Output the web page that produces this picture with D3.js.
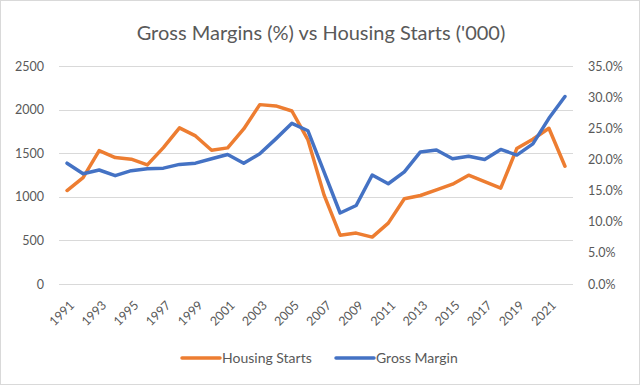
<!DOCTYPE html>
<html>
<head>
<meta charset="utf-8">
<script src="https://cdn.jsdelivr.net/npm/d3@7"></script>
<style>
  body { margin: 0; background: #fff; }
  svg { display: block; font-family: Lato, "Open Sans", sans-serif; }
</style>
</head>
<body>
<svg id="chart" width="640" height="385"></svg>
<script>
const years = d3.range(1991, 2023);

// housing starts, thousands
const housingStarts = [1072, 1221, 1530, 1450, 1431, 1366, 1564, 1790, 1698, 1534,
  1561, 1778, 2057, 2042, 1984, 1652, 1022, 560, 584, 538,
  698, 977, 1015, 1080, 1145, 1248, 1175, 1099, 1553, 1660,
  1786, 1351];

// gross margin, %
const grossMargin = [19.4, 17.7, 18.3, 17.4, 18.2, 18.5, 18.6, 19.2, 19.4, 20.1,
  20.8, 19.4, 20.9, 23.3, 25.8, 24.6, 18.0, 11.4, 12.6, 17.5,
  16.1, 18.0, 21.2, 21.5, 20.1, 20.5, 20.0, 21.6, 20.7, 22.5,
  26.6, 30.1];

const leftTicks = [0, 500, 1000, 1500, 2000, 2500];
const rightTicks = [0, 5, 10, 15, 20, 25, 30, 35];
const labelYears = years.filter(y => (y - 1991) % 2 === 0);

const WIDTH = 640, HEIGHT = 385;
const plot = { left: 59, right: 573, top: 66, bottom: 284 };
const textColor = "#595959";
const gridColor = "#d9d9d9";
const orange = "#ED7D31", blue = "#4472C4";

const svg = d3.select("#chart");

svg.append("rect")
  .attr("x", 0.5).attr("y", 0.5)
  .attr("width", WIDTH - 1).attr("height", HEIGHT - 1)
  .attr("fill", "#fff")
  .attr("stroke", gridColor);

const x = d3.scaleBand()
  .domain(years)
  .range([plot.left, plot.right]);

const yLeft = d3.scaleLinear().domain([0, 2500]).range([plot.bottom, plot.top]);
const yRight = d3.scaleLinear().domain([0, 35]).range([plot.bottom, plot.top]);

const cx = d => x(d) + x.bandwidth() / 2;

// grid
svg.append("g")
  .selectAll("line")
  .data(leftTicks)
  .join("line")
  .attr("x1", plot.left).attr("x2", plot.right)
  .attr("y1", d => Math.round(yLeft(d)) + 0.5)
  .attr("y2", d => Math.round(yLeft(d)) + 0.5)
  .attr("stroke", gridColor)
  .attr("stroke-width", 1);

// left axis
const leftAxis = svg.append("g")
  .attr("transform", `translate(${plot.left - 15},0)`)
  .call(d3.axisLeft(yLeft).tickValues(leftTicks).tickSize(0).tickPadding(0)
    .tickFormat(d3.format("d")));
leftAxis.select(".domain").remove();
leftAxis.selectAll("text")
  .attr("fill", textColor)
  .attr("font-size", "12.5px")
  .attr("font-family", "Lato");

// right axis
const rightAxis = svg.append("g")
  .attr("transform", `translate(${plot.right + 15},0)`)
  .call(d3.axisRight(yRight).tickValues(rightTicks).tickSize(0).tickPadding(0)
    .tickFormat(d => d.toFixed(1) + "%"));
rightAxis.select(".domain").remove();
rightAxis.selectAll("text")
  .attr("fill", textColor)
  .attr("font-size", "12.5px")
  .attr("font-family", "Lato");

// x labels
svg.append("g")
  .selectAll("text")
  .data(labelYears)
  .join("text")
  .attr("transform", d => `translate(${cx(d) + 5},${plot.bottom + 19}) rotate(-45)`)
  .attr("text-anchor", "end")
  .attr("dy", "0.35em")
  .attr("fill", textColor)
  .attr("font-size", "12.5px")
  .text(d => d);

// lines
const lineLeft = d3.line()
  .x((d, i) => cx(years[i]))
  .y(d => yLeft(d));
const lineRight = d3.line()
  .x((d, i) => cx(years[i]))
  .y(d => yRight(d));

svg.append("path")
  .datum(housingStarts)
  .attr("d", lineLeft)
  .attr("fill", "none")
  .attr("stroke", orange)
  .attr("stroke-width", 3.5)
  .attr("stroke-linejoin", "round")
  .attr("stroke-linecap", "round");

svg.append("path")
  .datum(grossMargin)
  .attr("d", lineRight)
  .attr("fill", "none")
  .attr("stroke", blue)
  .attr("stroke-width", 3.5)
  .attr("stroke-linejoin", "round")
  .attr("stroke-linecap", "round");

// title
svg.append("text")
  .attr("x", 321).attr("y", 40)
  .attr("text-anchor", "middle")
  .attr("fill", textColor)
  .attr("font-size", "20px")
  .text("Gross Margins (%) vs Housing Starts ('000)");

// legend
const legendItems = [
  { name: "Housing Starts", color: orange, x: 182 },
  { name: "Gross Margin", color: blue, x: 336 }
];
const legend = svg.append("g")
  .selectAll("g")
  .data(legendItems)
  .join("g")
  .attr("transform", d => `translate(${d.x},358)`);
legend.append("line")
  .attr("x1", 0).attr("x2", 38)
  .attr("stroke", d => d.color)
  .attr("stroke-width", 3.5)
  .attr("stroke-linecap", "round");
legend.append("text")
  .attr("x", 40)
  .attr("dy", "0.35em")
  .attr("fill", textColor)
  .attr("font-size", "14px")
  .text(d => d.name);
</script>
</body>
</html>
